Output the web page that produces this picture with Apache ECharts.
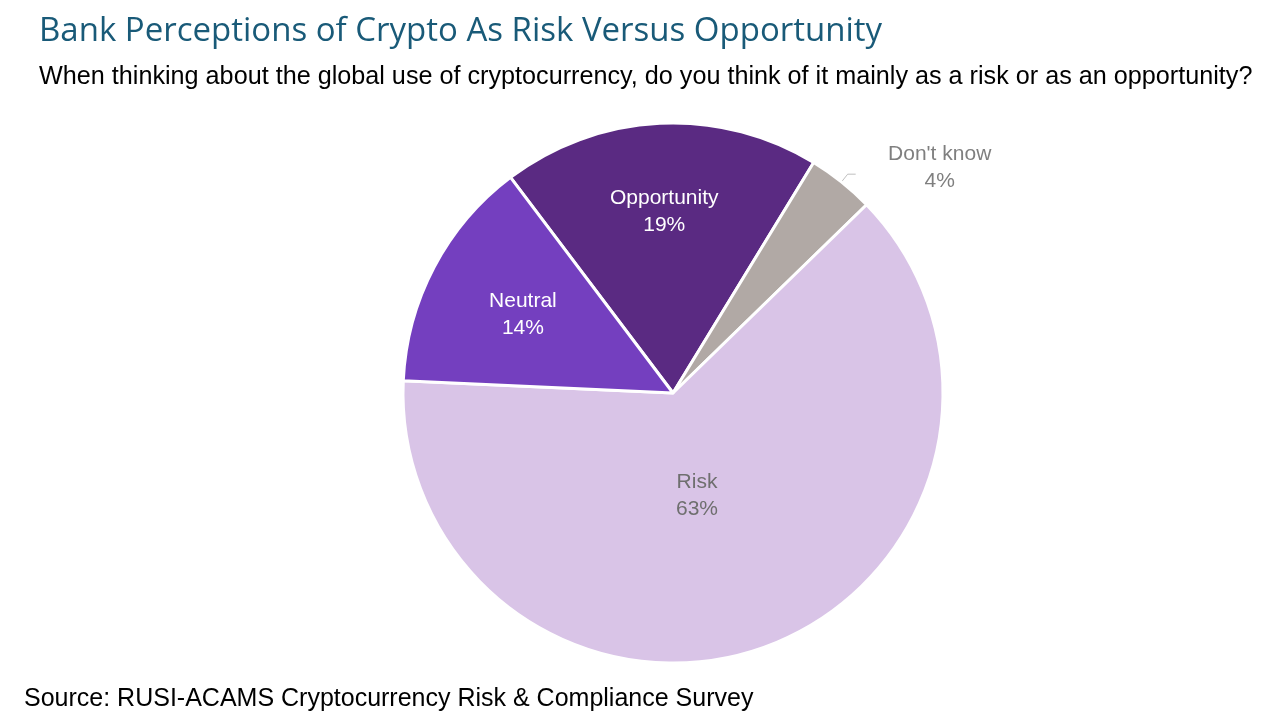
<!DOCTYPE html>
<html><head><meta charset="utf-8">
<script src="https://cdn.jsdelivr.net/npm/echarts@6/dist/echarts.min.js"></script>
<style>html,body{margin:0;background:#fff}#c{width:1280px;height:720px}</style>
</head><body><div id="c"></div>
<script>
// slices, clockwise from the top-left edge
const names = ['Opportunity', "Don't know", 'Risk', 'Neutral'];
const values = [19, 4, 63, 14];
const colors = ['#5a2a82', '#b1a9a5', '#d9c4e7', '#743fbf'];
const labelColors = ['#ffffff', '#7f7f7f', '#6f6f6f', '#ffffff'];
const labelShift = [[-2, -43], [24, -6], [-25, -26], [-28, -14]];

const chart = echarts.init(document.getElementById('c'));
chart.setOption({
	animation: false,
	title: [
		{ text: 'Bank Perceptions of Crypto As Risk Versus Opportunity', left: 34, top: 10,
			textStyle: { fontFamily: 'Open Sans', fontWeight: 'normal', fontSize: 33, color: '#195a78' } },
		{ text: 'When thinking about the global use of cryptocurrency, do you think of it mainly as a risk or as an opportunity?',
			left: 34, top: 60, textStyle: { fontFamily: 'Liberation Sans', fontWeight: 'normal', fontSize: 25.2, color: '#000' } },
		{ text: 'Source: RUSI-ACAMS Cryptocurrency Risk & Compliance Survey', left: 19, top: 682,
			textStyle: { fontFamily: 'Liberation Sans', fontWeight: 'normal', fontSize: 25, color: '#000' } }
	],
	series: [{
		type: 'pie',
		center: [673, 393],
		radius: [0, 270],
		startAngle: 127,
		clockwise: true,
		itemStyle: { borderColor: '#fff', borderWidth: 3 },
		label: { position: 'inside', fontFamily: 'Liberation Sans', fontSize: 21, lineHeight: 27,
			formatter: p => p.name + '\n' + p.value + '%' },
		data: names.map((n, i) => {
			const d = { name: n, value: values[i], itemStyle: { color: colors[i] },
				label: { color: labelColors[i], offset: labelShift[i] } };
			if (i === 1) {
				d.label.position = 'outside';
				d.label.formatter = p => '{a|' + p.name + '}\n{a|' + p.value + '%}';
				d.label.rich = { a: { width: 110, align: 'center', color: '#7f7f7f',
					fontFamily: 'Liberation Sans', fontSize: 21, lineHeight: 27 } };
				d.labelLine = { show: true, length: 10, length2: 8, lineStyle: { color: '#bfbfbf' } };
			}
			return d;
		})
	}]
});
</script></body></html>
